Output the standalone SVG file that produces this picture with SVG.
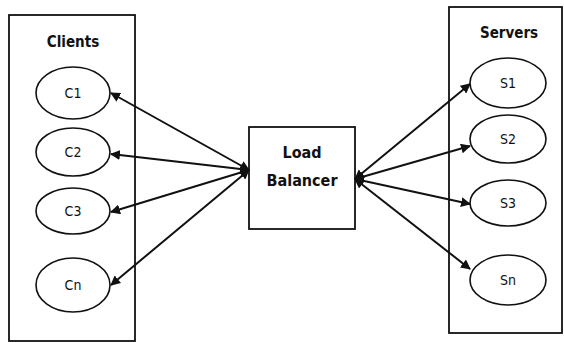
<svg xmlns="http://www.w3.org/2000/svg" width="564" height="343" viewBox="0 0 564 343">
  <style>
    .box { fill: #fff; stroke: #111; stroke-width: 1.8; }
    .node { fill: #fff; stroke: #111; stroke-width: 1.6; }
    .title { font-family: "DejaVu Sans Condensed", "Liberation Sans", sans-serif; font-weight: bold; font-size: 15px; fill: #111; text-anchor: middle; }
    .big { font-size: 16px; }
    .label { font-family: "DejaVu Sans Condensed", "Liberation Sans", sans-serif; font-size: 14px; fill: #111; text-anchor: middle; }
    .link { stroke: #111; stroke-width: 2; fill: none; marker-start: url(#head); marker-end: url(#head); }
  </style>
  <defs>
    <marker id="head" viewBox="0 0 10 10" refX="9" refY="5" markerWidth="5" markerHeight="5" orient="auto-start-reverse" markerUnits="strokeWidth">
      <path d="M0,0 L10,5 L0,10 z" fill="#111"/>
    </marker>
  </defs>
  <rect width="564" height="343" fill="#fff"/>

  <!-- client group -->
  <g id="clients">
    <rect class="box" x="9" y="15" width="126" height="326"/>
    <text class="title" x="73" y="47">Clients</text>
  </g>
  <g id="c1">
    <ellipse class="node" cx="73" cy="93" rx="37" ry="26"/>
    <text class="label" x="73" y="98">C1</text>
  </g>
  <g id="c2">
    <ellipse class="node" cx="73" cy="152" rx="37" ry="24"/>
    <text class="label" x="73" y="157">C2</text>
  </g>
  <g id="c3">
    <ellipse class="node" cx="73" cy="211" rx="37" ry="23"/>
    <text class="label" x="73" y="216">C3</text>
  </g>
  <g id="cn">
    <ellipse class="node" cx="73" cy="285" rx="37" ry="27"/>
    <text class="label" x="73" y="290">Cn</text>
  </g>

  <!-- balancer -->
  <g id="balancer">
    <rect class="box" x="249" y="127" width="106" height="102"/>
    <text class="title big" x="302" y="158">Load</text>
    <text class="title big" x="302" y="186">Balancer</text>
  </g>

  <!-- server group -->
  <g id="servers">
    <rect class="box" x="449" y="7" width="113" height="326"/>
    <text class="title" x="509" y="38">Servers</text>
  </g>
  <g id="s1">
    <ellipse class="node" cx="508" cy="83" rx="38" ry="25"/>
    <text class="label" x="508" y="88">S1</text>
  </g>
  <g id="s2">
    <ellipse class="node" cx="508" cy="139" rx="38" ry="24"/>
    <text class="label" x="508" y="144">S2</text>
  </g>
  <g id="s3">
    <ellipse class="node" cx="508" cy="203" rx="38" ry="23"/>
    <text class="label" x="508" y="208">S3</text>
  </g>
  <g id="sn">
    <ellipse class="node" cx="508" cy="280" rx="38" ry="25"/>
    <text class="label" x="508" y="285">Sn</text>
  </g>

  <!-- connectors -->
  <g id="connectors">
    <line class="link" x1="249" y1="170" x2="111" y2="93"/>
    <line class="link" x1="249" y1="170" x2="111" y2="154"/>
    <line class="link" x1="249" y1="170" x2="111" y2="212"/>
    <line class="link" x1="249" y1="170" x2="111" y2="285"/>
    <line class="link" x1="355" y1="179" x2="470" y2="84"/>
    <line class="link" x1="355" y1="179" x2="470" y2="146"/>
    <line class="link" x1="355" y1="179" x2="470" y2="204"/>
    <line class="link" x1="355" y1="179" x2="470" y2="269"/>
  </g>
</svg>
